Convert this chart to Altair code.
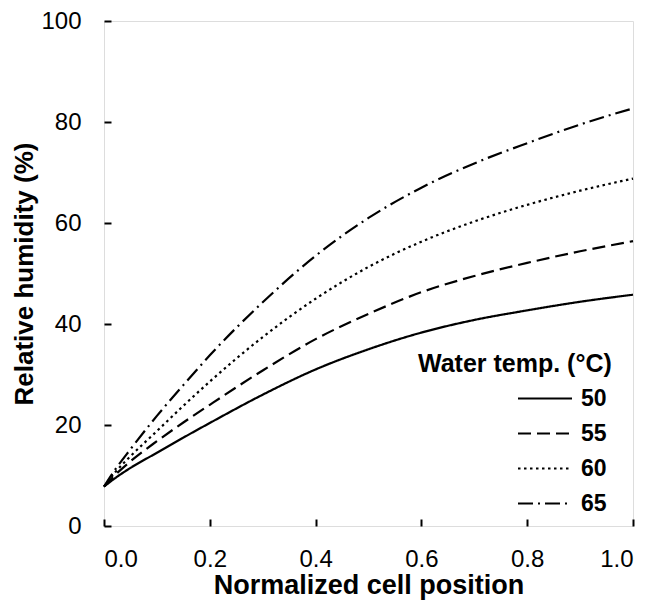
import altair as alt
import pandas as pd

positions = [0, 0.02, 0.05, 0.1, 0.15, 0.2, 0.3, 0.4, 0.5, 0.6, 0.7, 0.8, 0.9, 1.0]
rh_50 = [7.8, 9.4, 11.5, 14.5, 17.5, 20.4, 26.0, 31.0, 35.0, 38.3, 40.8, 42.7, 44.4, 45.8]
rh_55 = [7.8, 10.0, 12.8, 16.8, 20.5, 24.0, 30.8, 37.0, 42.0, 46.3, 49.5, 52.1, 54.4, 56.4]
rh_60 = [7.8, 10.5, 13.8, 18.8, 23.8, 28.6, 37.4, 45.0, 51.3, 56.3, 60.3, 63.6, 66.4, 68.8]
rh_65 = [7.8, 11.0, 15.2, 21.8, 27.9, 33.8, 44.3, 53.5, 61.0, 67.0, 71.8, 75.8, 79.5, 82.7]
temps = ["50", "55", "60", "65"]
x_ticks = [0, 0.2, 0.4, 0.6, 0.8, 1.0]
y_ticks = [0, 20, 40, 60, 80, 100]

rows = []
for t, vals in zip(temps, [rh_50, rh_55, rh_60, rh_65]):
    for x, v in zip(positions, vals):
        rows.append({"pos": x, "rh": v, "temp": t})
df = pd.DataFrame(rows)

FONT = "Liberation Sans"

chart = alt.Chart(df).mark_line(color="black", strokeWidth=2.2, interpolate="monotone").encode(
    x=alt.X("pos:Q", scale=alt.Scale(domain=[0, 1], nice=False),
            axis=alt.Axis(values=x_ticks, format=".1f", title="Normalized cell position",
                          offset=-7, tickSize=7, domain=False, grid=False,
                          tickColor="black", tickWidth=2, labelPadding=21,
                          labelFont=FONT, labelFontSize=24, labelColor="black",
                          titleFont=FONT, titleFontSize=27, titleFontWeight="bold",
                          titleColor="black", titlePadding=1)),
    y=alt.Y("rh:Q", scale=alt.Scale(domain=[0, 100], nice=False),
            axis=alt.Axis(values=y_ticks, format="d", title="Relative humidity (%)",
                          offset=-7, tickSize=7, domain=False, grid=False,
                          tickColor="black", tickWidth=2, labelPadding=23,
                          labelFont=FONT, labelFontSize=24, labelColor="black",
                          titleFont=FONT, titleFontSize=26, titleFontWeight="bold",
                          titleColor="black", titlePadding=3)),
    strokeDash=alt.StrokeDash("temp:N",
        scale=alt.Scale(domain=temps, range=[[1, 0], [13, 6], [2.5, 3.5], [15, 5, 2, 5]]),
        legend=alt.Legend(title="Water temp. (°C)", orient="none", legendX=314, legendY=331,
                          titleFont=FONT, titleFontSize=25, titleFontWeight="bold",
                          titleColor="black", titlePadding=10, titleLimit=400,
                          labelFont=FONT, labelFontSize=23, labelFontWeight="bold",
                          labelColor="black", symbolType="stroke", symbolSize=2916,
                          symbolStrokeColor="black", symbolStrokeWidth=2,
                          symbolOffset=99, labelOffset=8, clipHeight=23,
                          rowPadding=11, padding=0)),
).properties(
    width=529, height=505,
    autosize=alt.AutoSizeParams(type="none"),
    padding={"left": 96, "top": 13, "right": 11, "bottom": 76},
).configure_view(stroke="black", strokeWidth=2).configure(background="white")

chart.save("out.html", embed_options={"renderer": "svg", "actions": False})
